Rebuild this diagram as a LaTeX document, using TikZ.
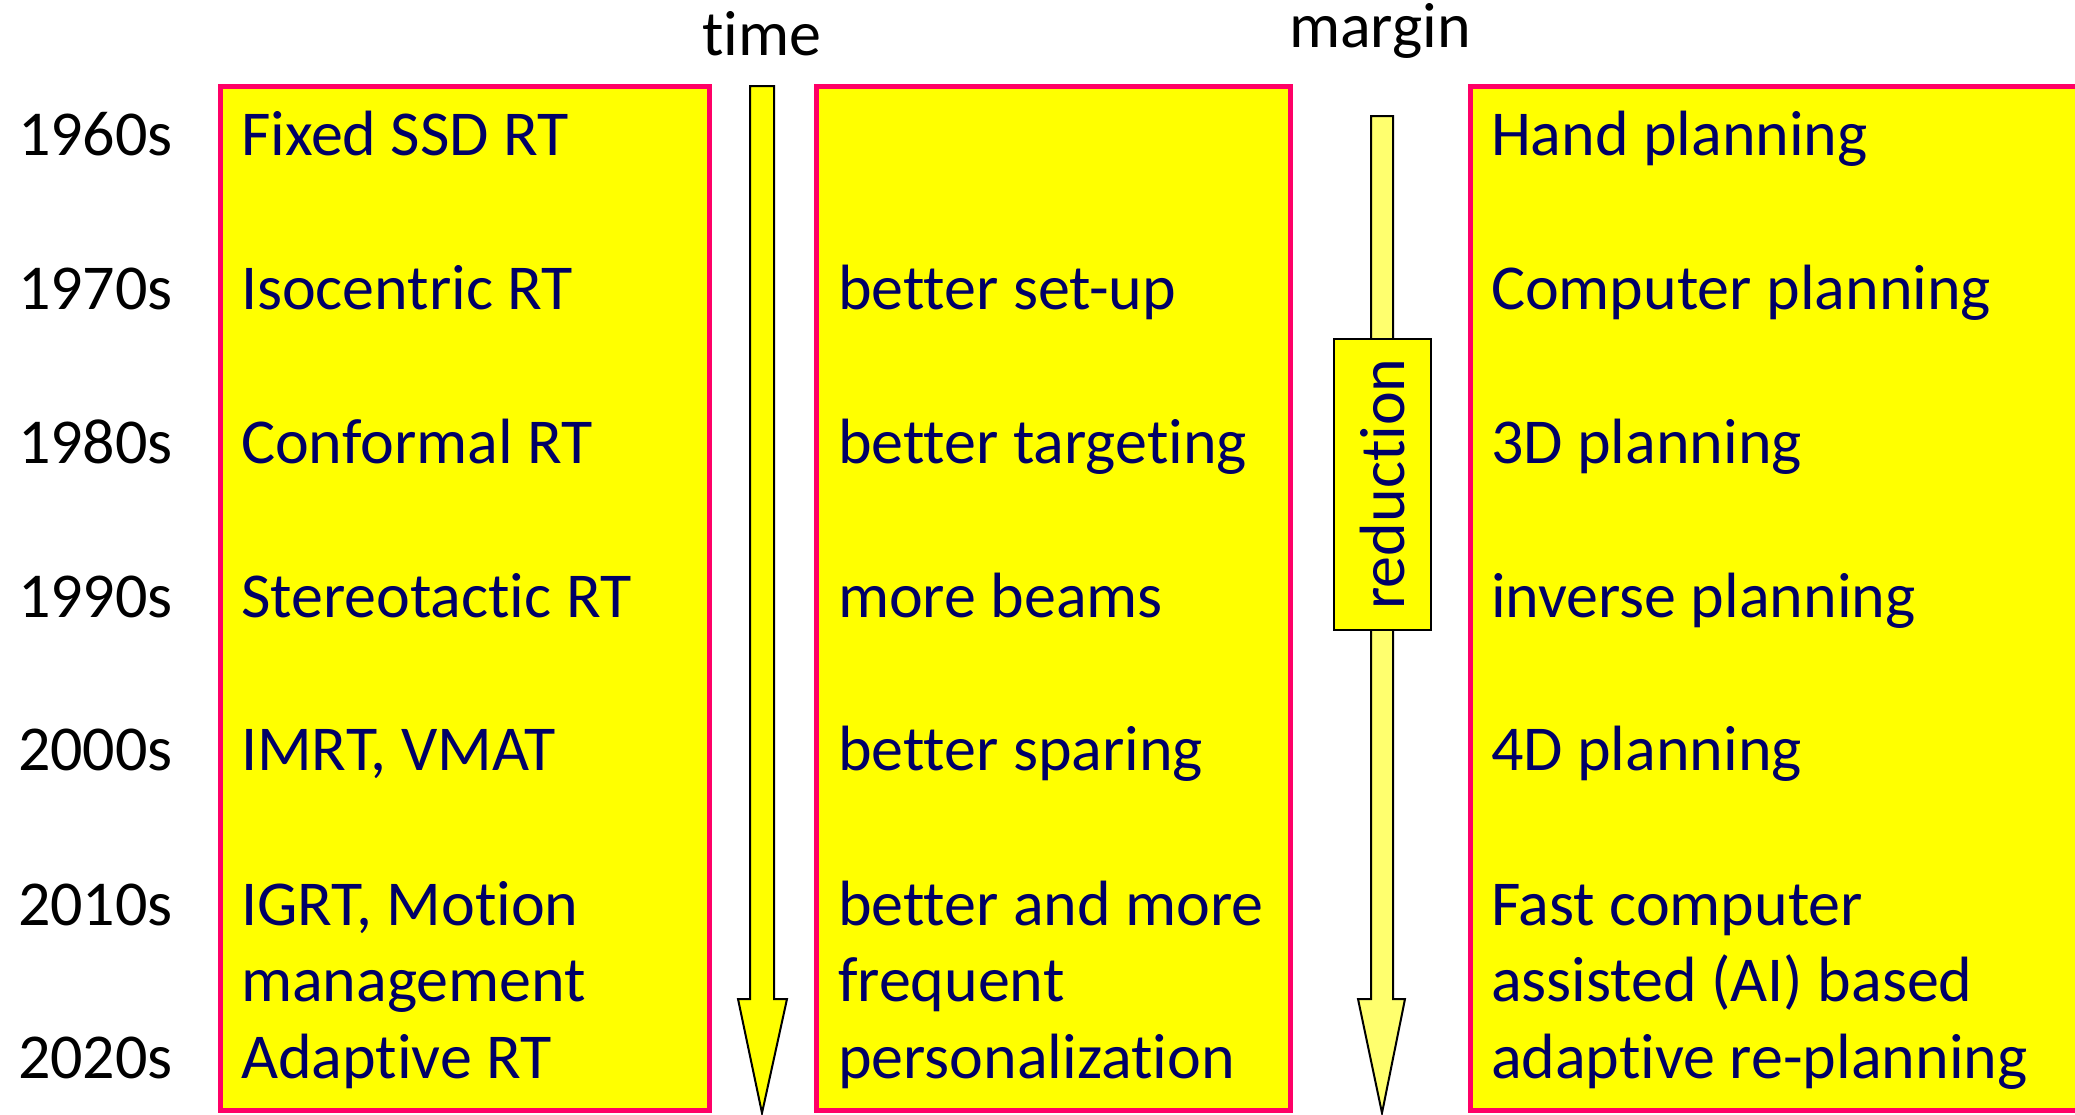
\documentclass[tikz,border=0pt]{standalone}
\usepackage{fontspec}
\setmainfont{Carlito}[Ligatures={NoCommon,NoRare,NoDiscretionary}]
\definecolor{txtblue}{RGB}{0,0,102}
\definecolor{boxred}{RGB}{255,0,102}
\definecolor{ylw}{RGB}{255,255,0}
\definecolor{lylw}{RGB}{255,255,110}
\begin{document}
\begin{tikzpicture}[x=1pt,y=-1pt,
  every node/.style={inner sep=0pt,outer sep=0pt},
  bigfont/.style={font=\fontsize{64}{76}\selectfont},
  txt/.style={bigfont,text=txtblue,anchor=base west},
  yr/.style={bigfont,text=black,anchor=base west},
  colbox/.style={draw=boxred,fill=ylw,line width=5pt,anchor=north west,minimum height=1024pt},
  arr/.style={draw=black,line width=2pt,line join=miter}]
\useasboundingbox (0,0) rectangle (2075,1114);
\clip (0,0) rectangle (2075,1114);
% boxes
\node[colbox,minimum width=489pt] (b1) at (220,86) {};
\node[colbox,minimum width=474pt] (b2) at (816,86) {};
\node[colbox,minimum width=640pt] (b3) at (1470,86) {};
% headers
\node[bigfont,anchor=base] (time) at (762,55) {time};
\node[bigfont,anchor=base] (margin) at (1380,47) {margin};
% arrows
\path[arr,fill=ylw] (750,86) -- (774,86) -- (774,999) -- (787,999) -- (762,1113) -- (738,999) -- (750,999) -- cycle;
\path[arr,fill=lylw] (1371,116) -- (1393,116) -- (1393,999) -- (1405,999) -- (1382,1113) -- (1358,999) -- (1371,999) -- cycle;
\node[draw=black,line width=2pt,fill=ylw,rotate=90,minimum width=291pt,minimum height=97pt,bigfont,text=txtblue] (red) at (1382,484) {reduction};
% years
\node[yr] (y1) at (18,155) {1960s};
\node[yr] (y2) at (18,309) {1970s};
\node[yr] (y3) at (18,463) {1980s};
\node[yr] (y4) at (18,617) {1990s};
\node[yr] (y5) at (18,770) {2000s};
\node[yr] (y6) at (18,925) {2010s};
\node[yr] (y7) at (18,1078) {2020s};
% column 1
\node[txt] (a1) at (241,155) {Fixed SSD RT};
\node[txt] (a2) at (241,309) {Isocentric RT};
\node[txt] (a3) at (241,463) {Conformal RT};
\node[txt] (a4) at (241,617) {Stereotactic RT};
\node[txt] (a5) at (241,770) {IMRT, VMAT};
\node[txt] (a6) at (241,925) {IGRT, Motion};
\node[txt] (a6b) at (241,1001) {management};
\node[txt] (a7) at (241,1078) {Adaptive RT};
% column 2
\node[txt] (c2) at (838,309) {better set-up};
\node[txt] (c3) at (838,463) {better targeting};
\node[txt] (c4) at (838,617) {more beams};
\node[txt] (c5) at (838,770) {better sparing};
\node[txt] (c6) at (838,925) {better and more};
\node[txt] (c6b) at (838,1001) {frequent};
\node[txt] (c6c) at (838,1078) {personalization};
% column 3
\node[txt] (d1) at (1491,155) {Hand planning};
\node[txt] (d2) at (1491,309) {Computer planning};
\node[txt] (d3) at (1491,463) {3D planning};
\node[txt] (d4) at (1491,617) {inverse planning};
\node[txt] (d5) at (1491,770) {4D planning};
\node[txt] (d6) at (1491,925) {Fast computer};
\node[txt] (d6b) at (1491,1001) {assisted (AI) based};
\node[txt] (d6c) at (1491,1078) {adaptive re-planning};
\end{tikzpicture}
\end{document}
